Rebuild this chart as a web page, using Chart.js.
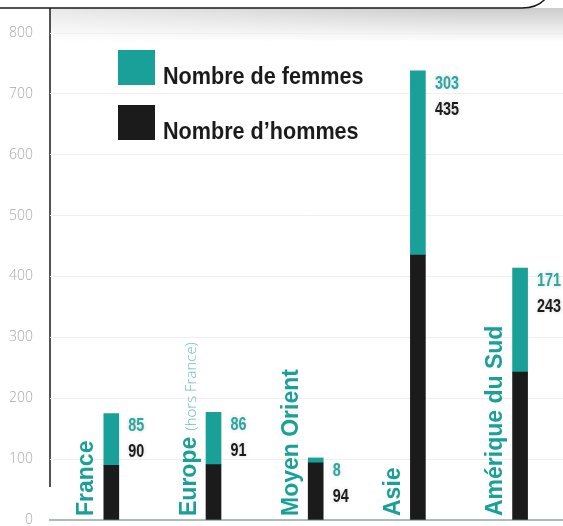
<!DOCTYPE html>
<html lang="fr">
<head>
<meta charset="UTF-8">
<title>Nombre de femmes et d'hommes par région</title>
<script src="https://cdn.jsdelivr.net/npm/chart.js@4.4.1/dist/chart.umd.min.js"></script>
<style>
  body { margin: 0; background: #fff; }
  canvas { display: block; }
</style>
</head>
<body>
<canvas id="myChart" width="563" height="526"></canvas>
<script>
const regions = ['France', 'Europe', 'Moyen Orient', 'Asie', 'Amérique du Sud'];
const regionNotes = ['', '(hors France)', '', '', ''];
const women = [85, 86, 8, 303, 171];
const men = [90, 91, 94, 435, 243];

const TEAL = '#19a098';
const BLACK = '#1b1b1b';

// text squeezed horizontally, for the narrow lettering
function condensedText(ctx, text, x, y, sx) {
  ctx.save();
  ctx.translate(x, y);
  ctx.scale(sx, 1);
  ctx.fillText(text, 0, 0);
  ctx.restore();
}

// top rule with its rounded corner, the shading under it and the left rule
const frame = {
  id: 'frame',
  beforeDraw(chart) {
    const ctx = chart.ctx;
    ctx.save();
    const g = ctx.createLinearGradient(0, 8, 0, 42);
    g.addColorStop(0, 'rgba(0,0,0,0.2)');
    g.addColorStop(1, 'rgba(0,0,0,0)');
    ctx.fillStyle = g;
    ctx.fillRect(50, 8, 513, 34);
    const fade = ctx.createLinearGradient(50, 0, 460, 0);
    fade.addColorStop(0, 'rgba(255,255,255,0.55)');
    fade.addColorStop(1, 'rgba(255,255,255,0)');
    ctx.fillStyle = fade;
    ctx.fillRect(50, 8, 513, 34);

    ctx.strokeStyle = '#1a1a1a';
    ctx.lineWidth = 1.5;
    ctx.beginPath();
    ctx.moveTo(0, 8);
    ctx.lineTo(522, 8);
    ctx.quadraticCurveTo(538, 8, 546, -2);
    ctx.stroke();
    ctx.beginPath();
    ctx.moveTo(50, 8);
    ctx.lineTo(50, 487);
    ctx.stroke();
    ctx.restore();
  }
};

const barLabels = {
  id: 'barLabels',
  afterDatasetsDraw(chart) {
    const ctx = chart.ctx;
    const womenMeta = chart.getDatasetMeta(1);
    const bottom = chart.chartArea.bottom;
    ctx.save();
    regions.forEach((name, i) => {
      const bar = womenMeta.data[i];

      // region name, reading upwards, left of the bar
      ctx.save();
      ctx.translate(bar.x - 18, bottom - 4);
      ctx.rotate(-Math.PI / 2);
      ctx.textAlign = 'left';
      ctx.textBaseline = 'alphabetic';
      ctx.fillStyle = TEAL;
      ctx.font = 'bold 23px "Liberation Sans", Arial, sans-serif';
      ctx.fillText(name, 0, 0);
      if (regionNotes[i]) {
        const w = ctx.measureText(name + ' ').width;
        ctx.font = '300 15px "Open Sans", sans-serif';
        ctx.fillStyle = '#6cc0b9';
        ctx.fillText(regionNotes[i], w, 0);
      }
      ctx.restore();

      // women / men counts at the top of the stack
      ctx.textAlign = 'left';
      ctx.textBaseline = 'middle';
      ctx.font = 'bold 18px "Liberation Sans", Arial, sans-serif';
      ctx.shadowColor = 'rgba(0,0,0,0.2)';
      ctx.shadowBlur = 4;
      ctx.fillStyle = '#2aa79f';
      condensedText(ctx, String(women[i]), bar.x + 17, bar.y + 13, 0.8);
      ctx.fillStyle = BLACK;
      condensedText(ctx, String(men[i]), bar.x + 17, bar.y + 39, 0.8);
      ctx.shadowColor = 'transparent';
      ctx.shadowBlur = 0;
    });

    // legend: women first, then men
    const items = [chart.data.datasets[1], chart.data.datasets[0]];
    ctx.textAlign = 'left';
    ctx.textBaseline = 'alphabetic';
    ctx.font = 'bold 24px "Liberation Sans", Arial, sans-serif';
    items.forEach((ds, k) => {
      const y = 50 + k * 55;
      ctx.fillStyle = ds.backgroundColor;
      ctx.fillRect(118, y, 37, 35);
      ctx.fillStyle = BLACK;
      condensedText(ctx, ds.label, 163, y + 34, 0.9);
    });
    ctx.restore();
  }
};

const ctx = document.getElementById('myChart').getContext('2d');
const myChart = new Chart(ctx, {
  type: 'bar',
  data: {
    datasets: [{
      label: 'Nombre d\u2019hommes',
      data: men.map((v, i) => ({ x: i, y: v })),
      backgroundColor: BLACK
    }, {
      label: 'Nombre de femmes',
      data: women.map((v, i) => ({ x: i, y: v })),
      backgroundColor: TEAL
    }]
  },
  options: {
    responsive: false,
    animation: false,
    devicePixelRatio: 1,
    barThickness: 15,
    layout: { padding: { top: 33, bottom: 6, left: 0, right: 0 } },
    plugins: {
      legend: { display: false },
      tooltip: { enabled: false }
    },
    scales: {
      x: {
        type: 'linear',
        offset: false,
        stacked: true,
        min: -0.6,
        max: 4.42,
        ticks: { display: false },
        grid: { display: false },
        border: { display: true, color: '#a9bdbb', width: 2 },
        afterFit: s => { s.height = 0; }
      },
      y: {
        stacked: true,
        min: 0,
        max: 800,
        ticks: {
          stepSize: 100,
          padding: 17,
          color: '#a8a8a8',
          font: { family: 'Open Sans', size: 14, weight: 300 }
        },
        grid: { color: '#efefef', drawTicks: false },
        border: { display: false },
        afterFit: s => { s.width = 50; s.paddingBottom = 0; }
      }
    }
  },
  plugins: [frame, barLabels]
});
</script>
</body>
</html>
